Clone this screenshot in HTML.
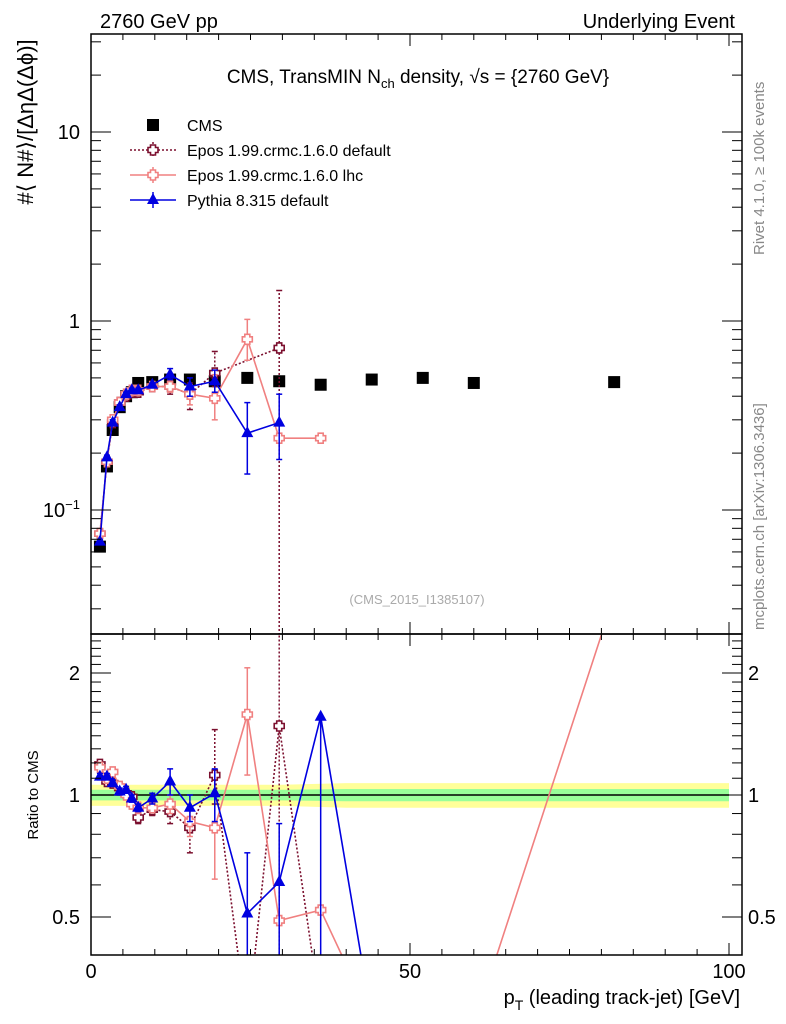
<!DOCTYPE html>
<html><head><meta charset="utf-8"><style>
html,body{margin:0;background:#fff;overflow:hidden;width:786px;height:1024px}
svg{display:block;font-family:"Liberation Sans",sans-serif}
</style></head><body>
<svg id="c" width="786" height="1024" viewBox="0 0 786 1024">
<text x="100" y="28" font-size="20">2760 GeV pp</text>
<text x="735" y="28" font-size="20" text-anchor="end">Underlying Event</text>
<text x="418" y="83" font-size="19" text-anchor="middle">CMS, TransMIN N<tspan font-size="13" dy="5">ch</tspan><tspan dy="-5"> density, √s = {2760 GeV}</tspan></text>
<text transform="translate(764,255) rotate(-90)" font-size="15" fill="#888">Rivet 4.1.0, ≥ 100k events</text>
<text transform="translate(764,630) rotate(-90)" font-size="15" fill="#888">mcplots.cern.ch [arXiv:1306.3436]</text>
<text x="417" y="604" font-size="13" fill="#aaa" text-anchor="middle">(CMS_2015_I1385107)</text>
<text transform="translate(33,122) rotate(-90)" font-size="22" text-anchor="middle">#⟨ N#⟩/[ΔηΔ(Δϕ)]</text>
<text transform="translate(38,795) rotate(-90)" font-size="15" text-anchor="middle">Ratio to CMS</text>
<text x="740" y="1004" font-size="20" text-anchor="end">p<tspan font-size="14" dy="6">T</tspan><tspan dy="-6"> (leading track-jet) [GeV]</tspan></text>
<g id="g"></g>
</svg>
<script>
const cmsX=[1.4,2.5,3.4,4.5,5.5,6.4,7.4,9.6,12.4,15.5,19.4,24.5,29.5,36,44,52,60,82];
const cmsY=[0.064,0.17,0.265,0.35,0.40,0.42,0.47,0.475,0.49,0.49,0.48,0.50,0.48,0.46,0.49,0.50,0.47,0.475];
const edX=[1.4,2.5,3.4,4.5,5.5,6.4,7.4,9.6,12.4,15.5,19.4,29.5];
const edY=[0.075,0.18,0.29,0.37,0.40,0.42,0.42,0.45,0.45,0.41,0.53,0.72];
const edLo=[0.072,0.175,0.285,0.36,0.39,0.41,0.41,0.43,0.41,0.34,0.45,0.01];
const edHi=[0.078,0.185,0.295,0.38,0.41,0.43,0.43,0.47,0.49,0.47,0.69,1.45];
const elX=[1.4,2.5,3.4,4.5,5.5,6.4,7.4,9.6,12.4,15.5,19.4,24.5,29.5,36];
const elY=[0.075,0.18,0.30,0.37,0.41,0.43,0.43,0.45,0.45,0.41,0.39,0.80,0.24,0.24];
const elLo=[0.073,0.175,0.29,0.36,0.40,0.42,0.42,0.44,0.42,0.36,0.30,0.62,0.24,0.24];
const elHi=[0.077,0.185,0.31,0.38,0.42,0.44,0.44,0.46,0.48,0.46,0.52,1.02,0.24,0.24];
const pyX=[1.4,2.5,3.4,4.5,5.5,6.4,7.4,9.6,12.4,15.5,19.4,24.5,29.5];
const pyY=[0.068,0.19,0.29,0.35,0.41,0.43,0.43,0.46,0.52,0.45,0.48,0.255,0.29];
const pyLo=[0.066,0.185,0.28,0.34,0.40,0.42,0.42,0.45,0.49,0.40,0.42,0.155,0.185];
const pyHi=[0.070,0.195,0.30,0.36,0.42,0.44,0.44,0.47,0.56,0.50,0.55,0.37,0.41];
const rEdX=[1.4,2.5,3.4,4.5,5.5,6.4,7.4,9.6,12.4,15.5,19.4,24.5,29.5,36];
const rEdY=[1.19,1.08,1.07,1.04,1.01,0.99,0.88,0.92,0.91,0.83,1.12,0.27,1.48,0.29];
const rEdLo=[1.17,1.06,1.05,1.02,0.99,0.97,0.85,0.89,0.85,0.72,0.95,0.27,0.01,0.29];
const rEdHi=[1.21,1.10,1.09,1.06,1.03,1.01,0.91,0.95,0.97,0.93,1.45,0.27,5,0.29];
const rElX=[1.4,2.5,3.4,4.5,5.5,6.4,7.4,9.6,12.4,15.5,19.4,24.5,29.5,36,44,52,60,82];
const rElY=[1.17,1.1,1.14,1.05,1.0,0.95,0.93,0.93,0.95,0.86,0.83,1.58,0.49,0.52,0.28,0.2,0.27,3.1];
const rElLo=[1.15,1.08,1.12,1.03,0.98,0.93,0.90,0.91,0.90,0.79,0.62,1.12,0.49,0.52,0.28,0.2,0.27,3.1];
const rElHi=[1.19,1.12,1.16,1.07,1.02,0.97,0.96,0.95,1.0,0.93,1.02,2.06,0.49,0.52,0.28,0.2,0.27,3.1];
const rPyX=[1.4,2.5,3.4,4.5,5.5,6.4,7.4,9.6,12.4,15.5,19.4,24.5,29.5,36,44];
const rPyY=[1.11,1.11,1.07,1.02,1.03,0.98,0.93,0.98,1.08,0.93,1.01,0.51,0.61,1.56,0.28];
const rPyLo=[1.09,1.09,1.05,1.0,1.01,0.96,0.91,0.95,1.0,0.86,0.86,0.2,0.2,0.2,0.28];
const rPyHi=[1.13,1.13,1.09,1.04,1.05,1.0,0.95,1.01,1.16,1.0,1.16,0.72,0.85,1.56,0.28];
const bandX=[0,10,20,30,40,50,60,70,80,90,100];
const bandIn=[0.03,0.03,0.03,0.03,0.035,0.035,0.035,0.035,0.035,0.035,0.035];
const bandOut=[0.06,0.06,0.06,0.06,0.07,0.07,0.07,0.07,0.07,0.07,0.07];

const NS="http://www.w3.org/2000/svg",G=document.getElementById('g');
const X0=91,X1=742,T=34,MB=634,RB=955;
const sx=v=>X0+v*6.38;
const sy=v=>321-189*Math.log10(v);
const sr=v=>795-122*Math.log2(v);
function mk(t,a,p){const e=document.createElementNS(NS,t);for(const k in a)e.setAttribute(k,a[k]);(p||G).appendChild(e);return e;}
const defs=mk('defs',{});
const c1=mk('clipPath',{id:'cm'},defs);mk('rect',{x:X0,y:T,width:X1-X0,height:MB-T},c1);
const c2=mk('clipPath',{id:'cr'},defs);mk('rect',{x:X0,y:MB,width:X1-X0,height:RB-MB},c2);
const gm=mk('g',{'clip-path':'url(#cm)'});
const gr=mk('g',{'clip-path':'url(#cr)'});
let po='',pi='';
bandX.forEach((x,i)=>{po+=sx(x)+','+sr(1+bandOut[i])+' ';pi+=sx(x)+','+sr(1+bandIn[i])+' ';});
for(let i=bandX.length-1;i>=0;i--){po+=sx(bandX[i])+','+sr(1-bandOut[i])+' ';pi+=sx(bandX[i])+','+sr(1-bandIn[i])+' ';}
let b=mk('polygon',{points:po,fill:'#ffff99'},gr);
b=mk('polygon',{points:pi,fill:'#99ff99'},gr);
b=mk('line',{x1:X0,x2:sx(100),y1:sr(1),y2:sr(1),stroke:'#000','stroke-width':1.5},gr);
function cross(g,x,y,col,fill){const s=5,w=2.5;const d=`M${x-w},${y-s}h${2*w}v${s-w}h${s-w}v${2*w}h${-(s-w)}v${s-w}h${-2*w}v${-(s-w)}h${-(s-w)}v${-2*w}h${s-w}z`;return mk('path',{d,fill:fill,stroke:col,'stroke-width':1.6},g);}
function tri(g,x,y,col){return mk('polygon',{points:`${x},${y-7} ${x-6},${y+4} ${x+6},${y+4}`,fill:col},g);}
function series(g,xs,ys,lo,hi,col,dash,marker,ysc,name){
  const s=mk('g',{},g);
  const a={points:xs.map((x,i)=>sx(x)+','+ysc(ys[i])).join(' '),fill:'none',stroke:col,'stroke-width':1.6};
  if(dash)a['stroke-dasharray']='2,2';
  mk('polyline',a,s);
  xs.forEach((x,i)=>{
    if(lo){mk('line',{x1:sx(x),x2:sx(x),y1:ysc(lo[i]),y2:ysc(hi[i]),stroke:col,'stroke-width':1.5,'stroke-dasharray':dash?'2,2':'none'},s);
      mk('line',{x1:sx(x)-3,x2:sx(x)+3,y1:ysc(hi[i]),y2:ysc(hi[i]),stroke:col,'stroke-width':1.5},s);
      mk('line',{x1:sx(x)-3,x2:sx(x)+3,y1:ysc(lo[i]),y2:ysc(lo[i]),stroke:col,'stroke-width':1.5},s);}
    let m=marker==='tri'?tri(s,sx(x),ysc(ys[i]),col):cross(s,sx(x),ysc(ys[i]),col,'#fff');
    
  });
}
const cs=mk('g',{},gm);
cmsX.forEach((x,i)=>{const r=mk('rect',{x:sx(x)-6,y:sy(cmsY[i])-6,width:12,height:12,fill:'#000'},cs);});
series(gm,edX,edY,edLo,edHi,'#7b0f2e',true,'cross',sy,'epos-default');
series(gm,elX,elY,elLo,elHi,'#f08080',false,'cross',sy,'epos-lhc');
series(gm,pyX,pyY,pyLo,pyHi,'#0000e0',false,'tri',sy,'pythia');
series(gr,rEdX,rEdY,rEdLo,rEdHi,'#7b0f2e',true,'cross',sr,'ratio-epos-default');
series(gr,rElX,rElY,rElLo,rElHi,'#f08080',false,'cross',sr,'ratio-epos-lhc');
series(gr,rPyX,rPyY,rPyLo,rPyHi,'#0000e0',false,'tri',sr,'ratio-pythia');
[[T,MB],[MB,RB]].forEach(([a,bb],k)=>{const f=mk('rect',{x:X0,y:a,width:X1-X0,height:bb-a,fill:'none',stroke:'#000','stroke-width':1.5});});
for(let v=0;v<=100;v+=5){const M=v%50===0,L=M?12:6;[[T,1],[MB,-1],[MB,1],[RB,-1]].forEach(([y,d])=>mk('line',{x1:sx(v),x2:sx(v),y1:y,y2:y+d*L,stroke:'#000'}));}
[0,50,100].forEach(v=>{const t=mk('text',{x:sx(v),y:978,'font-size':20,'text-anchor':'middle'});t.textContent=v;});
for(let e=-2;e<=1;e++)for(let m=1;m<=9;m++){const v=m*Math.pow(10,e);const y=sy(v);if(y<T||y>MB)continue;const L=m===1?20:10;mk('line',{x1:X0,x2:X0+L,y1:y,y2:y,stroke:'#000'});mk('line',{x1:X1,x2:X1-L,y1:y,y2:y,stroke:'#000'});}
[['10',sy(10)],['1',sy(1)]].forEach(([s,y])=>{const t=mk('text',{x:80,y:y+7,'font-size':20,'text-anchor':'end'});t.textContent=s;});
let t=mk('text',{x:80,y:sy(0.1)+7,'font-size':20,'text-anchor':'end'});t.innerHTML='10<tspan font-size="13" dy="-8">−1</tspan>';
for(let v=0.4;v<=2.5;v+=0.1){const y=sr(v);if(y<MB||y>RB)continue;const maj=Math.abs(v-0.5)<1e-6||Math.abs(v-1)<1e-6||Math.abs(v-2)<1e-6;const L=maj?20:10;mk('line',{x1:X0,x2:X0+L,y1:y,y2:y,stroke:'#000'});mk('line',{x1:X1,x2:X1-L,y1:y,y2:y,stroke:'#000'});}
[['2',2],['1',1],['0.5',0.5]].forEach(([s,v])=>{let a=mk('text',{x:80,y:sr(v)+7,'font-size':20,'text-anchor':'end'});a.textContent=s;
 a=mk('text',{x:748,y:sr(v)+7,'font-size':20});a.textContent=s;});
const lg=mk('g',{});
const ent=[['CMS','sq','#000'],['Epos 1.99.crmc.1.6.0 default','cross','#7b0f2e',1],['Epos 1.99.crmc.1.6.0 lhc','cross','#f08080'],['Pythia 8.315 default','tri','#0000e0']];
ent.forEach((e,i)=>{const y=125+i*25;const g=mk('g',{},lg);
 if(e[1]==='sq')mk('rect',{x:147,y:y-6,width:12,height:12,fill:'#000'},g);
 else{const a={x1:130,x2:176,y1:y,y2:y,stroke:e[2],'stroke-width':1.6};if(e[3])a['stroke-dasharray']='2,2';mk('line',a,g);
  mk('line',{x1:153,x2:153,y1:y-8,y2:y+8,stroke:e[2],'stroke-width':1.5,'stroke-dasharray':e[3]?'2,2':'none'},g);
  if(e[1]==='tri')tri(g,153,y,e[2]);else cross(g,153,y,e[2],'#fff');}
 const tx=mk('text',{x:187,y:y+6,'font-size':16},g);tx.textContent=e[0];});
</script>
</body></html>
